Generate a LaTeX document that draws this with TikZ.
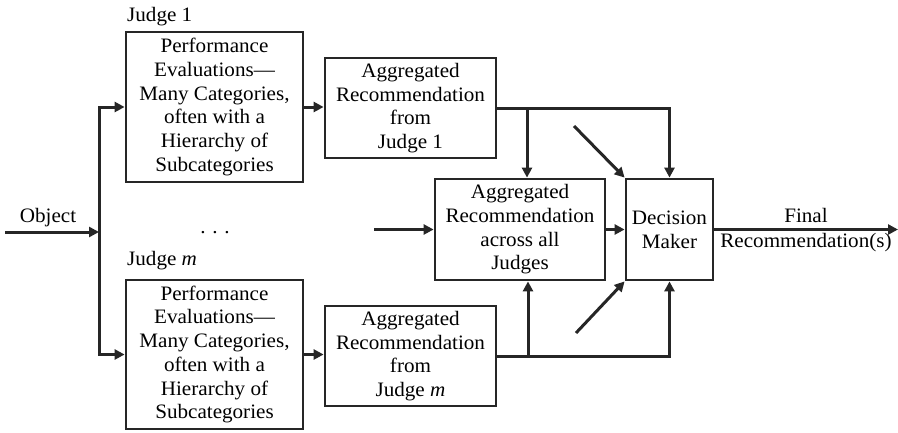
\documentclass[tikz,border=0pt]{standalone}
\usepackage{fontspec}
\setmainfont{Liberation Serif}[FakeStretch=1.03]
\usetikzlibrary{arrows.meta}
\begin{document}
\begin{tikzpicture}[x=1pt,y=-1pt,
  box/.style={draw=black!85,line width=2.8pt,align=center,inner sep=0pt,font=\fontsize{20.5}{23.7}\selectfont},
  lbl/.style={inner sep=0pt,anchor=base,font=\fontsize{20.5}{23.7}\selectfont},
  arr/.style={draw=black!85,line width=3pt,-{Triangle[length=10pt,width=10pt]}}]
\useasboundingbox (0,0) rectangle (898,432);
\node[box,minimum width=177pt,minimum height=150pt] (PE1) at (214.5,107) {Performance\\Evaluations---\\Many Categories,\\often with a\\Hierarchy of\\Subcategories};
\node[box,minimum width=171pt,minimum height=100pt] (AR1) at (410.5,108) {Aggregated\\Recommendation\\from\\Judge 1};
\node[box,minimum width=170pt,minimum height=101pt] (ACJ) at (520,229.5) {Aggregated\\Recommendation\\across all\\Judges};
\node[box,minimum width=87pt,minimum height=101pt] (DM) at (669.5,229.5) {Decision\\Maker};
\node[box,minimum width=177pt,minimum height=149pt] (PEm) at (214.5,354.5) {Performance\\Evaluations---\\Many Categories,\\often with a\\Hierarchy of\\Subcategories};
\node[box,minimum width=171pt,minimum height=100pt] (ARm) at (410.5,356) {Aggregated\\Recommendation\\from\\Judge \textit{m}};
\node[lbl,anchor=base west] (J1) at (127,21) {Judge 1};
\node[lbl,anchor=base west] (Jm) at (127,265) {Judge \textit{m}};
\node[lbl] (obj) at (48,222) {Object};
\node[lbl] (dots) at (215,233) {.\,\,.\,\,.};
\node[lbl] (fin) at (806,222) {Final};
\node[lbl] (frec) at (806,247) {Recommendation(s)};
\coordinate (os) at (5,232);
\coordinate (sp) at (99,232);
\coordinate (b1) at (527,108);
\coordinate (b2) at (528,356);
\coordinate (in) at (374,229.5);
\coordinate (d1) at (574,126);
\coordinate (d2) at (576,333);
\coordinate (out) at (898,229.5);
\draw[arr] (os) -- (sp);
\draw[arr] (sp) |- (PE1.west);
\draw[arr] (sp) |- (PEm.west);
\draw[arr] (PE1.east) -- (AR1.west |- PE1.east);
\draw[arr] (PEm.east) -- (ARm.west |- PEm.east);
\draw[arr] (AR1.east) -| (DM.north);
\draw[arr] (b1) -- (b1 |- ACJ.north);
\draw[arr] (ARm.east) -| (DM.south);
\draw[arr] (b2) -- (b2 |- ACJ.south);
\draw[arr] (in) -- (ACJ.west);
\draw[arr] (ACJ.east) -- (DM.west);
\draw[arr] (d1) -- (DM.north west);
\draw[arr] (d2) -- (DM.south west);
\draw[arr] (DM.east) -- (out);
\end{tikzpicture}
\end{document}
